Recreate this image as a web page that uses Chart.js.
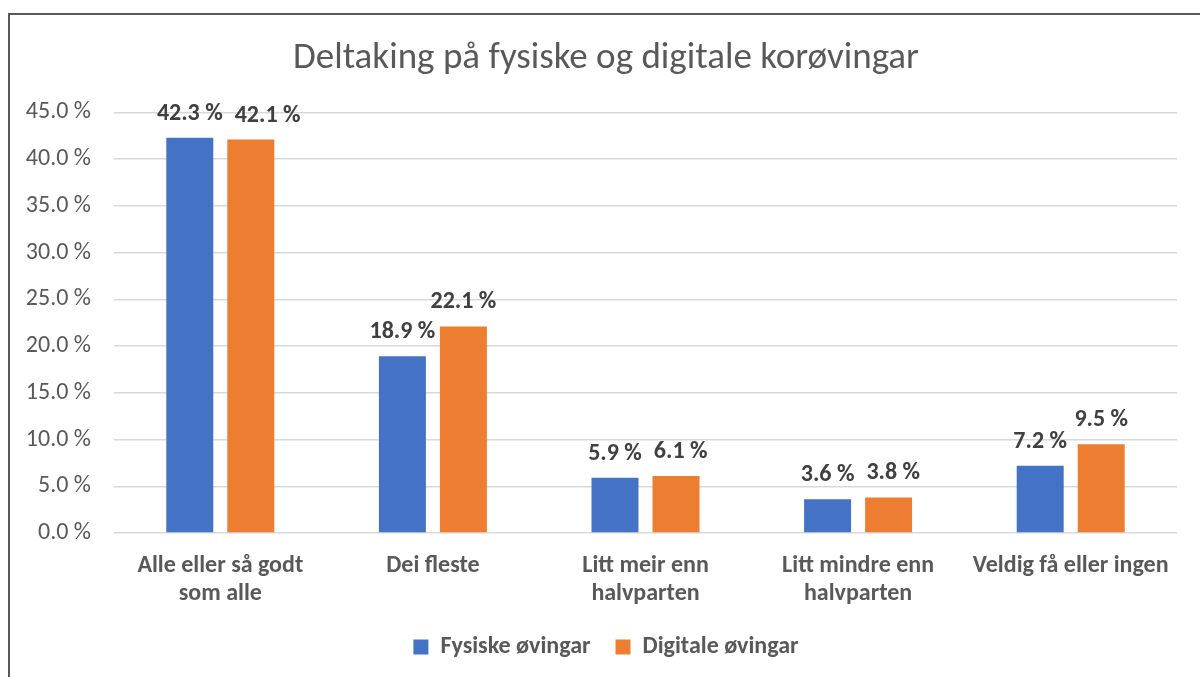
<!DOCTYPE html>
<html>
<head>
<meta charset="utf-8">
<script src="https://cdn.jsdelivr.net/npm/chart.js@4"></script>
<style>
  html, body { margin: 0; padding: 0; background: #fff; overflow: hidden; }
  #wrap { position: relative; width: 1200px; height: 677px; }
  #frame { position: absolute; left: 8px; top: 13px; width: 1300px; height: 800px;
           border-left: 2px solid #595959; border-top: 2px solid #595959; pointer-events: none; }
</style>
</head>
<body>
<div id="wrap">
  <canvas id="myChart"></canvas>
  <div id="frame"></div>
</div>
<script>
const categories = [
  ["Alle eller så godt", "som alle"],
  "Dei fleste",
  ["Litt meir enn", "halvparten"],
  ["Litt mindre enn", "halvparten"],
  "Veldig få eller ingen"
];
const fysiske = [42.3, 18.9, 5.9, 3.6, 7.2];
const digitale = [42.1, 22.1, 6.1, 3.8, 9.5];
const yTicks = [0, 5, 10, 15, 20, 25, 30, 35, 40, 45];

const FONT = "Carlito, Lato, 'Open Sans', sans-serif";
const grey = "#595959";

// tekst over søylene, høgre etikett skuvast til sides om dei kolliderer
const barLabels = {
  id: "barLabels",
  afterDatasetsDraw(chart) {
    const ctx = chart.ctx;
    ctx.save();
    ctx.font = "bold 24px " + FONT;
    ctx.fillStyle = "#404040";
    ctx.textAlign = "center";
    ctx.textBaseline = "middle";
    const m0 = chart.getDatasetMeta(0).data;
    const m1 = chart.getDatasetMeta(1).data;
    chart.data.labels.forEach((_, j) => {
      const t0 = chart.data.datasets[0].data[j].toFixed(1) + " %";
      const t1 = chart.data.datasets[1].data[j].toFixed(1) + " %";
      const w0 = ctx.measureText(t0).width;
      const w1 = ctx.measureText(t1).width;
      const b0 = m0[j], b1 = m1[j];
      const y0 = b0.y - 24, y1 = b1.y - 24;
      let x1 = b1.x;
      if (Math.abs(y0 - y1) < 20) {
        const need = (b0.x + w0 / 2 + 12) - (x1 - w1 / 2);
        if (need > 0) x1 += need;
      }
      ctx.fillText(t0, b0.x, y0);
      ctx.fillText(t1, x1, y1);
    });
    ctx.restore();
  }
};

// flytt tittel og forklaring litt til høgre (midtstilt som i Excel)
const shiftBoxes = {
  id: "shiftBoxes",
  afterLayout(chart) {
    chart.titleBlock.left += 35;
    chart.legend.left += 35;
  }
};

const config = {
  type: "bar",
  data: {
    labels: categories,
    datasets: [
      {
        label: "Fysiske øvingar",
        data: fysiske,
        backgroundColor: "#4472C4",
        barPercentage: 0.77,
        categoryPercentage: 0.574,
      },
      {
        label: "Digitale øvingar",
        data: digitale,
        backgroundColor: "#ED7D31",
        barPercentage: 0.77,
        categoryPercentage: 0.574,
      },
    ],
  },
  options: {
    responsive: true,
    maintainAspectRatio: false,
    animation: false,
    layout: { padding: { left: 0, right: 23, top: 0, bottom: 8 } },
    plugins: {
      title: {
        display: true,
        text: "Deltaking på fysiske og digitale korøvingar",
        color: grey,
        font: { family: FONT, size: 37, weight: "normal", lineHeight: 1.2 },
        padding: { top: 37, bottom: 31 },
      },
      legend: {
        position: "bottom",
        labels: {
          color: grey,
          boxWidth: 15,
          boxHeight: 15,
          padding: 25,
          font: { family: FONT, size: 24, weight: "bold" },
        },
      },
      tooltip: { enabled: false },
    },
    scales: {
      x: {
        grid: { display: false },
        border: { display: false },
        ticks: {
          color: grey,
          padding: 11,
          maxRotation: 0,
          font: { family: FONT, size: 24, weight: "bold", lineHeight: 1.18 },
        },
        afterFit(scale) { scale.height = 77; },
      },
      y: {
        min: 0,
        max: 45,
        border: { display: false },
        grid: { color: "#d9d9d9", lineWidth: 1.5, drawTicks: false },
        afterBuildTicks(scale) { scale.ticks = yTicks.map(v => ({ value: v })); },
        afterFit(scale) { scale.width = 114; },
        ticks: {
          color: grey,
          padding: 23,
          font: { family: FONT, size: 24 },
          callback: v => v.toFixed(1) + " %",
        },
      },
    },
  },
  plugins: [barLabels, shiftBoxes],
};

const myChart = new Chart(document.getElementById("myChart"), config);
</script>
</body>
</html>
